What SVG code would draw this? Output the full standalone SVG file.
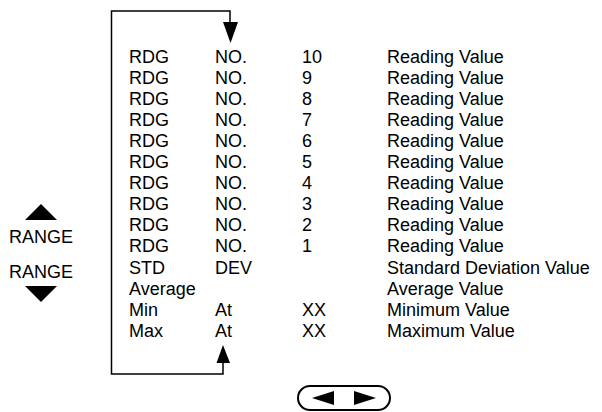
<svg xmlns="http://www.w3.org/2000/svg" width="602" height="412" viewBox="0 0 602 412">
<style>
text{font-family:"Liberation Sans",Arial,sans-serif;font-size:18px;fill:#000}
.ln{fill:none;stroke:#000;stroke-width:1.5}
.btn{fill:none;stroke:#000;stroke-width:2}
.tri{fill:#000}
</style>
<rect width="602" height="412" fill="#fff"/>
<g id="connectors">
<polyline class="ln" points="223,363 223,374 111.5,374 111.5,11 230,11 230,23"/>
<polygon class="tri" points="223,22 238,22 230.5,43"/>
<polygon class="tri" points="216.5,363 230,363 223,345"/>
</g>
<g id="table">
<text x="129" y="63">RDG</text><text x="215" y="63">NO.</text><text x="302" y="63">10</text><text x="387" y="63">Reading Value</text>
<text x="129" y="84">RDG</text><text x="215" y="84">NO.</text><text x="302" y="84">9</text><text x="387" y="84">Reading Value</text>
<text x="129" y="105">RDG</text><text x="215" y="105">NO.</text><text x="302" y="105">8</text><text x="387" y="105">Reading Value</text>
<text x="129" y="126">RDG</text><text x="215" y="126">NO.</text><text x="302" y="126">7</text><text x="387" y="126">Reading Value</text>
<text x="129" y="147">RDG</text><text x="215" y="147">NO.</text><text x="302" y="147">6</text><text x="387" y="147">Reading Value</text>
<text x="129" y="168">RDG</text><text x="215" y="168">NO.</text><text x="302" y="168">5</text><text x="387" y="168">Reading Value</text>
<text x="129" y="189">RDG</text><text x="215" y="189">NO.</text><text x="302" y="189">4</text><text x="387" y="189">Reading Value</text>
<text x="129" y="210">RDG</text><text x="215" y="210">NO.</text><text x="302" y="210">3</text><text x="387" y="210">Reading Value</text>
<text x="129" y="231">RDG</text><text x="215" y="231">NO.</text><text x="302" y="231">2</text><text x="387" y="231">Reading Value</text>
<text x="129" y="252">RDG</text><text x="215" y="252">NO.</text><text x="302" y="252">1</text><text x="387" y="252">Reading Value</text>
<text x="129" y="274">STD</text><text x="215" y="274">DEV</text><text x="387" y="274">Standard Deviation Value</text>
<text x="129" y="295">Average</text><text x="387" y="295">Average Value</text>
<text x="129" y="316">Min</text><text x="215" y="316">At</text><text x="302" y="316">XX</text><text x="387" y="316">Minimum Value</text>
<text x="129" y="337">Max</text><text x="215" y="337">At</text><text x="302" y="337">XX</text><text x="387" y="337">Maximum Value</text>
</g>
<g id="range-up">
<polygon class="tri" points="25,220 57,220 41,204"/>
<text x="41" y="243" text-anchor="middle">RANGE</text>
</g>
<g id="range-down">
<text x="41" y="278" text-anchor="middle">RANGE</text>
<polygon class="tri" points="25,286 57,286 41,302"/>
</g>
<g id="cursor-keys">
<rect class="btn" x="298" y="386" width="92" height="24" rx="12"/>
<polygon class="tri" points="312,398 334,391 334,405"/>
<polygon class="tri" points="376,398 354,391 354,405"/>
</g>
</svg>
